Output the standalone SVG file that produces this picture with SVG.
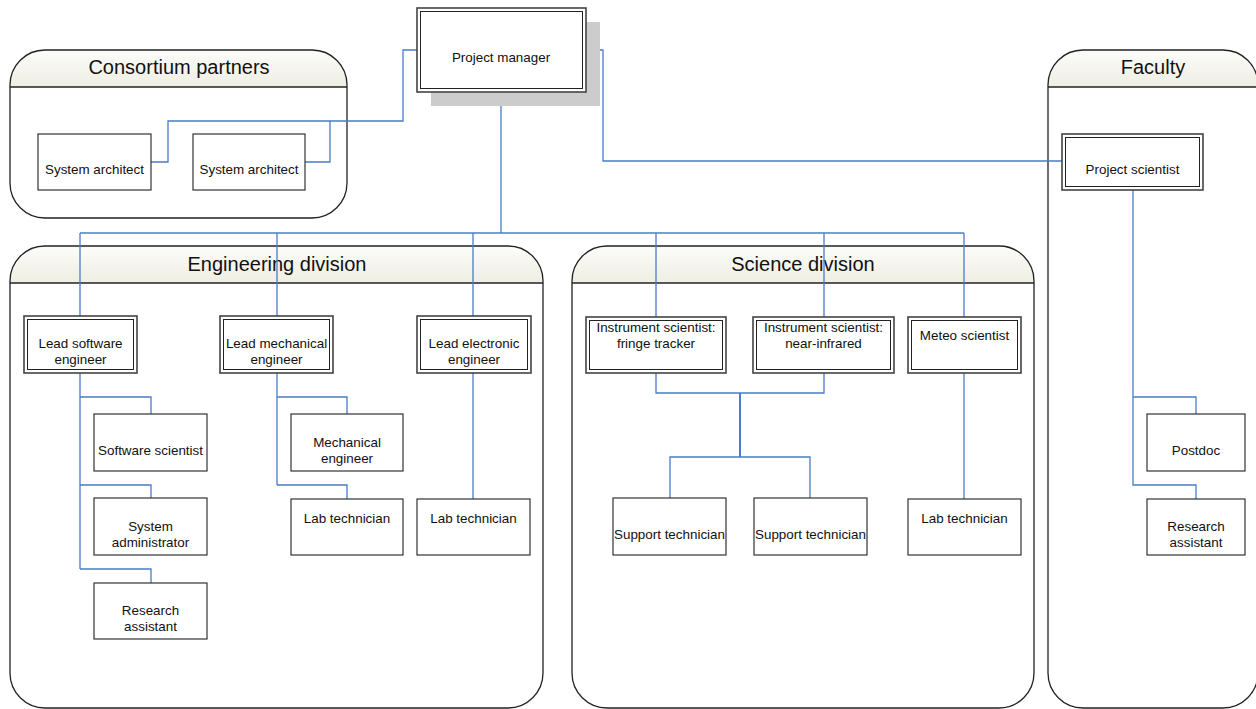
<svg xmlns="http://www.w3.org/2000/svg" width="1256" height="709" viewBox="0 0 1256 709">
<defs>
<linearGradient id="hdr" x1="0" y1="0" x2="0" y2="1">
<stop offset="0" stop-color="#fcfcf9"/>
<stop offset="1" stop-color="#eeeee4"/>
</linearGradient>
</defs>
<style>
.cont{fill:none;stroke:#222;stroke-width:1.3}
.hdr{fill:url(#hdr);stroke:none}
.hline{stroke:#222;stroke-width:1.3}
.title{font-family:"Liberation Sans",Arial,sans-serif;font-size:20px;fill:#111;text-anchor:middle}
.box{fill:#fff;stroke:#333;stroke-width:1.2}
.outer{fill:#fff;stroke:#444;stroke-width:1.6}
.inner{fill:none;stroke:#222;stroke-width:1}
.lbl{font-family:"Liberation Sans",Arial,sans-serif;font-size:13.4px;fill:#111;text-anchor:middle}
.conn{fill:none;stroke:#4a7cc9;stroke-width:1.3}
</style>
<rect width="1256" height="709" fill="#fff"/>

<g id="consortium">
<path class="hdr" d="M10,87 V85 A35,35 0 0 1 45,50 H312 A35,35 0 0 1 347,85 V87 Z"/>
<rect class="cont" x="10" y="50" width="337" height="168" rx="35" ry="35"/>
<line class="hline" x1="10" y1="87" x2="347" y2="87"/>
<text class="title" x="179" y="74">Consortium partners</text>
</g>
<g id="faculty">
<path class="hdr" d="M1048,87 V85 A35,35 0 0 1 1083,50 H1223 A35,35 0 0 1 1258,85 V87 Z"/>
<rect class="cont" x="1048" y="50" width="210" height="658" rx="35" ry="35"/>
<line class="hline" x1="1048" y1="87" x2="1258" y2="87"/>
<text class="title" x="1153" y="74">Faculty</text>
</g>
<g id="engineering">
<path class="hdr" d="M10,283 V281 A35,35 0 0 1 45,246 H508 A35,35 0 0 1 543,281 V283 Z"/>
<rect class="cont" x="10" y="246" width="533" height="462" rx="35" ry="35"/>
<line class="hline" x1="10" y1="283" x2="543" y2="283"/>
<text class="title" x="277" y="271">Engineering division</text>
</g>
<g id="science">
<path class="hdr" d="M572,283 V281 A35,35 0 0 1 607,246 H999 A35,35 0 0 1 1034,281 V283 Z"/>
<rect class="cont" x="572" y="246" width="462" height="462" rx="35" ry="35"/>
<line class="hline" x1="572" y1="283" x2="1034" y2="283"/>
<text class="title" x="803" y="271">Science division</text>
</g>

<g id="connectors">
<path class="conn" d="M417,50 H403 V121 H168 V162 H151"/>
<path class="conn" d="M330,121 V162 H305"/>
<path class="conn" d="M586,50 H603 V161 H1062"/>
<path class="conn" d="M501,92 V233"/>
<path class="conn" d="M80,233 H964"/>
<path class="conn" d="M80,233 V316 M277,233 V316 M473,233 V316 M656,233 V317 M824,233 V317 M964,233 V317"/>
<path class="conn" d="M80,373 V569 M80,397 H151 V414 M80,485 H151 V498 M80,569 H151 V583"/>
<path class="conn" d="M277,373 V485 M277,397 H347 V414 M277,485 H347 V499"/>
<path class="conn" d="M473,373 V499"/>
<path class="conn" d="M656,373 V393 H824 V373"/>
<path class="conn" d="M740,393 V457" style="stroke-width:2"/>
<path class="conn" d="M670,498 V457 H810 V498"/>
<path class="conn" d="M964,373 V499"/>
<path class="conn" d="M1133,190 V485 H1196 V499 M1133,397 H1196 V414"/>
</g>

<g id="project-manager">
<rect x="431" y="22" width="169" height="84" fill="#cccccc"/>
<rect class="outer" x="417" y="8" width="169" height="84"/>
<rect class="inner" x="420.5" y="11.5" width="162" height="77"/>
<text class="lbl" x="501" y="61.5">Project manager</text>
</g>
<g id="system-architect-1">
<rect class="box" x="38" y="134" width="113" height="56"/>
<text class="lbl" x="94.5" y="173.5">System architect</text>
</g>
<g id="system-architect-2">
<rect class="box" x="193" y="134" width="112" height="56"/>
<text class="lbl" x="249" y="173.5">System architect</text>
</g>
<g id="project-scientist">
<rect class="outer" x="1062" y="134" width="141" height="56"/>
<rect class="inner" x="1065.5" y="137.5" width="134" height="49"/>
<text class="lbl" x="1132.5" y="173.5">Project scientist</text>
</g>
<g id="postdoc">
<rect class="box" x="1147" y="414" width="98" height="57"/>
<text class="lbl" x="1196" y="454.5">Postdoc</text>
</g>
<g id="research-assistant-faculty">
<rect class="box" x="1147" y="499" width="98" height="56"/>
<text class="lbl" x="1196" y="531">Research</text>
<text class="lbl" x="1196" y="547">assistant</text>
</g>

<g id="lead-software-engineer">
<rect class="outer" x="24" y="316" width="113" height="57"/>
<rect class="inner" x="27.5" y="319.5" width="106" height="50"/>
<text class="lbl" x="80.5" y="347.5">Lead software</text>
<text class="lbl" x="80.5" y="363.5">engineer</text>
</g>
<g id="lead-mechanical-engineer">
<rect class="outer" x="220" y="316" width="113" height="57"/>
<rect class="inner" x="223.5" y="319.5" width="106" height="50"/>
<text class="lbl" x="276.5" y="347.5">Lead mechanical</text>
<text class="lbl" x="276.5" y="363.5">engineer</text>
</g>
<g id="lead-electronic-engineer">
<rect class="outer" x="417" y="316" width="114" height="57"/>
<rect class="inner" x="420.5" y="319.5" width="107" height="50"/>
<text class="lbl" x="474" y="347.5">Lead electronic</text>
<text class="lbl" x="474" y="363.5">engineer</text>
</g>
<g id="software-scientist">
<rect class="box" x="94" y="414" width="113" height="57"/>
<text class="lbl" x="150.5" y="454.5">Software scientist</text>
</g>
<g id="system-administrator">
<rect class="box" x="94" y="498" width="113" height="57"/>
<text class="lbl" x="150.5" y="530.5">System</text>
<text class="lbl" x="150.5" y="546.5">administrator</text>
</g>
<g id="research-assistant-eng">
<rect class="box" x="94" y="583" width="113" height="56"/>
<text class="lbl" x="150.5" y="614.5">Research</text>
<text class="lbl" x="150.5" y="630.5">assistant</text>
</g>
<g id="mechanical-engineer">
<rect class="box" x="291" y="414" width="112" height="57"/>
<text class="lbl" x="347" y="446.5">Mechanical</text>
<text class="lbl" x="347" y="462.5">engineer</text>
</g>
<g id="lab-technician-mech">
<rect class="box" x="291" y="499" width="112" height="56"/>
<text class="lbl" x="347" y="522.5">Lab technician</text>
</g>
<g id="lab-technician-elec">
<rect class="box" x="417" y="499" width="113" height="56"/>
<text class="lbl" x="473.5" y="522.5">Lab technician</text>
</g>

<g id="instrument-scientist-fringe">
<rect class="outer" x="586" y="317" width="140" height="56"/>
<rect class="inner" x="589.5" y="320.5" width="133" height="49"/>
<text class="lbl" x="656" y="332">Instrument scientist:</text>
<text class="lbl" x="656" y="348">fringe tracker</text>
</g>
<g id="instrument-scientist-nir">
<rect class="outer" x="753" y="317" width="141" height="56"/>
<rect class="inner" x="756.5" y="320.5" width="134" height="49"/>
<text class="lbl" x="823.5" y="332">Instrument scientist:</text>
<text class="lbl" x="823.5" y="348">near-infrared</text>
</g>
<g id="meteo-scientist">
<rect class="outer" x="908" y="317" width="113" height="56"/>
<rect class="inner" x="911.5" y="320.5" width="106" height="49"/>
<text class="lbl" x="964.5" y="339.5">Meteo scientist</text>
</g>
<g id="support-technician-1">
<rect class="box" x="613" y="498" width="113" height="57"/>
<text class="lbl" x="669.5" y="538.5">Support technician</text>
</g>
<g id="support-technician-2">
<rect class="box" x="754" y="498" width="113" height="57"/>
<text class="lbl" x="810.5" y="538.5">Support technician</text>
</g>
<g id="lab-technician-sci">
<rect class="box" x="908" y="499" width="113" height="56"/>
<text class="lbl" x="964.5" y="522.5">Lab technician</text>
</g>
</svg>
